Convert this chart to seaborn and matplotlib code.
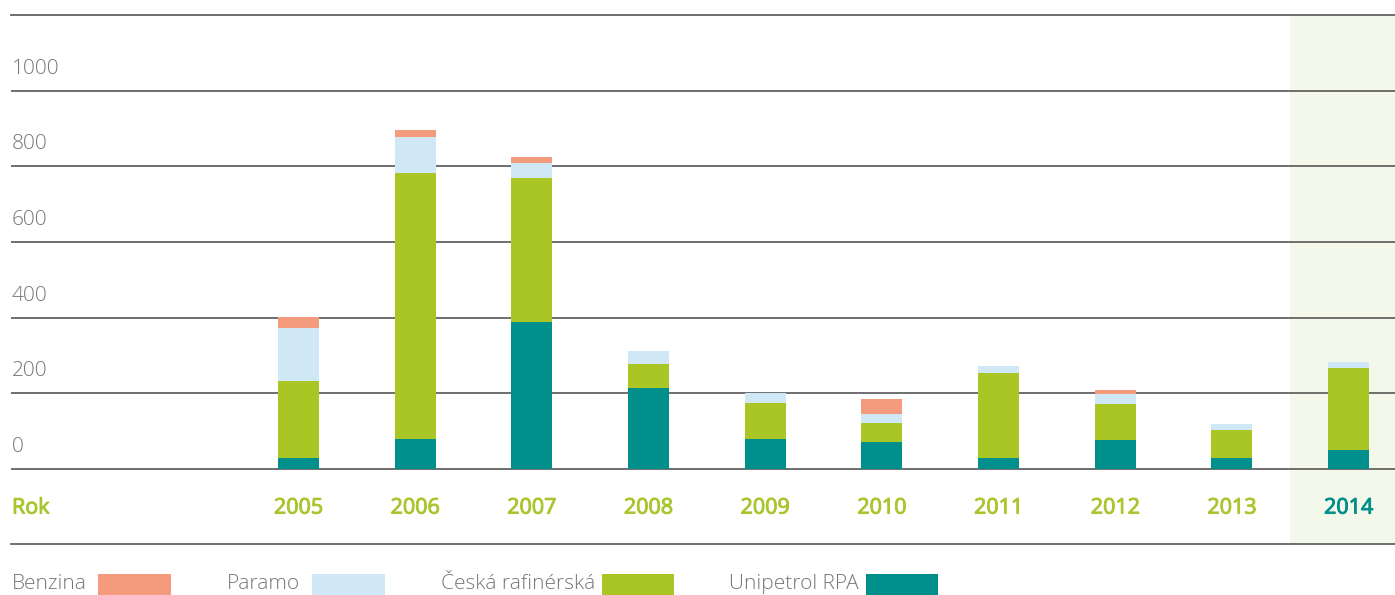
import numpy as np
import pandas as pd
import matplotlib
matplotlib.use("Agg")
import matplotlib.pyplot as plt
import matplotlib.patches as mpatches
import matplotlib.patheffects as pe
import seaborn as sns

# data
years = ["2005", "2006", "2007", "2008", "2009", "2010", "2011", "2012", "2013", "2014"]
unipetrol = [29, 79, 388, 213, 79, 71, 29, 76, 29, 50]
ceska = [203, 703, 380, 66, 95, 50, 226, 97, 74, 218]
paramo = [142, 95, 42, 34, 26, 24, 18, 26, 16, 16]
benzina = [29, 20, 16, 0, 0, 40, 0, 11, 0, 0]
series_names = ["Benzina", "Paramo", "Česká rafinérská", "Unipetrol RPA"]
yticks = [0, 200, 400, 600, 800, 1000]

col_benzina = "#F39B7C"
col_paramo = "#D0E8F5"
col_ceska = "#A9C625"
col_unipetrol = "#008F8A"
col_green_txt = "#A9C62F"
col_grid = "#636363"
col_label = "#767676"

sns.set_style("white")
plt.rcParams["font.family"] = ["Open Sans", "DejaVu Sans"]

df = pd.DataFrame({"year": years, "uni": unipetrol, "ces": ceska,
                   "par": paramo, "ben": benzina})
df["c_uni"] = df["uni"]
df["c_ces"] = df["c_uni"] + df["ces"]
df["c_par"] = df["c_ces"] + df["par"]
df["c_ben"] = df["c_par"] + df["ben"]

fig = plt.figure(figsize=(13.95, 5.95), dpi=100)
W, H = 1395, 595
ax = fig.add_axes([11 / W, (H - 544) / H, (W - 11) / W, 529 / H])

# highlighted 2014 column
ax.axvspan(8.5, 9.5, color="#F4F8EA", zorder=0, lw=0)

# stacked bars: draw cumulative totals from the top layer down
for col, c in [("c_ben", col_benzina), ("c_par", col_paramo),
               ("c_ces", col_ceska), ("c_uni", col_unipetrol)]:
    sns.barplot(data=df, x="year", y=col, color=c, width=0.352,
                saturation=1, ax=ax, zorder=3, linewidth=0)

ax.set_xlim(-2.464, 9.398)
ax.set_ylim(-198, 1200)
ax.set_xlabel("")
ax.set_ylabel("")
ax.set_yticks(yticks)
ax.set_xticks([])
ax.tick_params(left=False, labelleft=False, bottom=False, labelbottom=False)
ax.grid(axis="y", color=col_grid, lw=1.3, zorder=1)
ax.set_axisbelow(True)
for s in ["left", "right"]:
    ax.spines[s].set_visible(False)
for s in ["top", "bottom"]:
    ax.spines[s].set_color(col_grid)
    ax.spines[s].set_linewidth(1.3)

# y labels sit above their gridline
ytr = ax.get_yaxis_transform()
for v in yticks:
    ax.text(0.0007, v + 58, str(v), transform=ytr, ha="left", va="center",
            fontsize=15, color=col_label, fontweight="light")


def bold_fx(c):
    return [pe.Stroke(linewidth=0.7, foreground=c), pe.Normal()]


# year row
ax.text(0.0007, -103, "Rok", transform=ytr, ha="left", va="center",
        fontsize=15.5, color=col_green_txt, path_effects=bold_fx(col_green_txt))
for i, y in enumerate(years):
    c = col_unipetrol if y == "2014" else col_green_txt
    ax.text(i, -103, y, ha="center", va="center", fontsize=15.5,
            color=c, path_effects=bold_fx(c))

# legend along the bottom
leg = [(series_names[0], col_benzina, 12, 98, 171),
       (series_names[1], col_paramo, 227, 312, 385),
       (series_names[2], col_ceska, 441, 602, 674),
       (series_names[3], col_unipetrol, 729, 866, 938)]
for name, c, tx, px0, px1 in leg:
    fig.text(tx / W, (H - 584) / H, name, ha="left", va="center",
             fontsize=15, color=col_label, fontweight="light")
    fig.patches.append(mpatches.Rectangle((px0 / W, 0), (px1 - px0) / W, 21 / H,
                                          transform=fig.transFigure,
                                          color=c, lw=0))

fig.savefig("out.png", dpi=100)
